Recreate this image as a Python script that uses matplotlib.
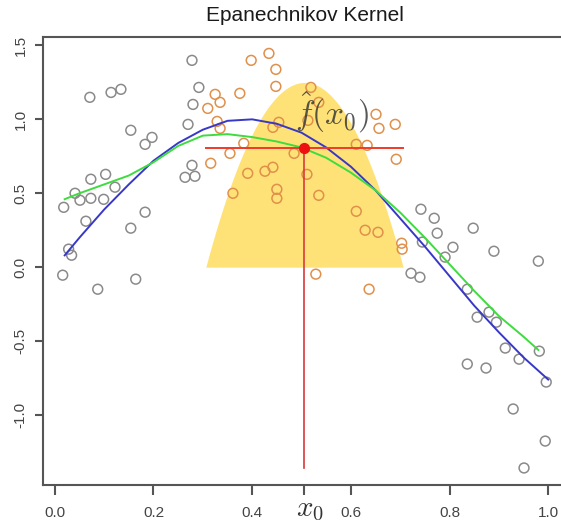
import numpy as np
import matplotlib
matplotlib.use("Agg")
import matplotlib.pyplot as plt

x_data = [0.071, 0.114, 0.134, 0.154, 0.183, 0.197, 0.041, 0.051, 0.073, 0.099,
          0.122, 0.018, 0.073, 0.103, 0.183, 0.154, 0.063, 0.028, 0.034, 0.016,
          0.087, 0.164, 0.278, 0.292, 0.280, 0.270, 0.278, 0.264, 0.284,
          0.398, 0.434, 0.448, 0.448, 0.375, 0.325, 0.335, 0.310, 0.329, 0.335,
          0.442, 0.454, 0.383, 0.355, 0.316, 0.391, 0.426, 0.442, 0.485, 0.361,
          0.450, 0.450, 0.519, 0.535, 0.513, 0.651, 0.657, 0.690, 0.611, 0.633,
          0.692, 0.511, 0.535, 0.611, 0.629, 0.655, 0.703, 0.704, 0.529, 0.637,
          0.742, 0.769, 0.775, 0.848, 0.807, 0.791, 0.890, 0.980, 0.722, 0.740,
          0.836, 0.856, 0.880, 0.895, 0.913, 0.941, 0.982, 0.996, 0.836, 0.874,
          0.929, 0.994, 0.951, 0.745]
y_data = [1.149, 1.182, 1.203, 0.926, 0.831, 0.878, 0.500, 0.453, 0.466, 0.459,
          0.541, 0.405, 0.595, 0.628, 0.372, 0.264, 0.311, 0.122, 0.081, -0.054,
          -0.149, -0.081, 1.399, 1.216, 1.101, 0.966, 0.689, 0.608, 0.615,
          1.399, 1.446, 1.338, 1.223, 1.176, 1.169, 1.115, 1.074, 0.986, 0.939,
          0.946, 0.980, 0.838, 0.770, 0.703, 0.635, 0.649, 0.676, 0.770, 0.500,
          0.527, 0.466, 1.216, 1.115, 0.993, 1.034, 0.939, 0.966, 0.831, 0.824,
          0.730, 0.628, 0.486, 0.378, 0.250, 0.236, 0.162, 0.122, -0.047, -0.149,
          0.392, 0.331, 0.230, 0.264, 0.135, 0.068, 0.108, 0.041, -0.041, -0.068,
          -0.149, -0.338, -0.304, -0.372, -0.547, -0.622, -0.568, -0.777, -0.655, -0.682,
          -0.959, -1.176, -1.358, 0.170]

# true function (blue) and kernel fit (green)
true_x = [0.02, 0.05, 0.10, 0.15, 0.20, 0.25, 0.30, 0.35, 0.40, 0.45, 0.50,
          0.55, 0.60, 0.65, 0.70, 0.75, 0.80, 0.85, 0.90, 0.95, 1.00]
true_y = [0.08, 0.20, 0.39, 0.56, 0.72, 0.84, 0.93, 0.99, 1.00, 0.97, 0.91,
          0.81, 0.68, 0.52, 0.33, 0.14, -0.06, -0.26, -0.44, -0.61, -0.76]
fit_x = [0.02, 0.05, 0.10, 0.15, 0.20, 0.25, 0.30, 0.35, 0.40, 0.45, 0.50,
         0.55, 0.60, 0.65, 0.70, 0.75, 0.80, 0.85, 0.90, 0.95, 0.98]
fit_y = [0.46, 0.50, 0.56, 0.62, 0.71, 0.82, 0.89, 0.90, 0.88, 0.85, 0.81,
         0.74, 0.64, 0.52, 0.37, 0.20, 0.02, -0.16, -0.33, -0.47, -0.56]

x0 = 0.506
lam = 0.2
fhat_x0 = 0.804
kernel_peak = 1.25

x_ticks = [0.0, 0.2, 0.4, 0.6, 0.8, 1.0]
x_ticklabels = ["0.0", "0.2", "0.4", "0.6", "0.8", "1.0"]
y_ticks = [-1.0, -0.5, 0.0, 0.5, 1.0, 1.5]
y_ticklabels = ["-1.0", "-0.5", "0.0", "0.5", "1.0", "1.5"]

plt.rcParams["font.family"] = ["Liberation Sans", "DejaVu Sans"]
plt.rcParams["mathtext.fontset"] = "cm"

fig = plt.figure(figsize=(5.61, 5.23), dpi=100)
ax = fig.add_axes([0.0766, 0.0727, 0.934, 0.856])

# Epanechnikov kernel shape around x0
t = np.linspace(-1, 1, 101)
kx = x0 + lam * t
ky = kernel_peak * (1 - t ** 2)
ax.fill_between(kx, 0, ky, color="#FFE277", lw=0, zorder=1)

xd = np.array(x_data)
yd = np.array(y_data)
inside = np.abs(xd - x0) <= lam
ax.scatter(xd[~inside], yd[~inside], s=50, facecolors="none",
           edgecolors="#8a8a8a", linewidths=1.1, zorder=3)
ax.scatter(xd[inside], yd[inside], s=50, facecolors="none",
           edgecolors="#E0904A", linewidths=1.1, zorder=3)

ax.plot(true_x, true_y, color="#3838C8", lw=1.4, zorder=4)
ax.plot(fit_x, fit_y, color="#3EDC3E", lw=1.4, zorder=4)

ax.plot([x0 - lam, x0 + lam], [fhat_x0, fhat_x0], color="#F03A2A", lw=1.4, zorder=5)
ax.plot([x0, x0], [min(y_data), fhat_x0], color="#D83A3A", lw=1.2, zorder=5)
ax.scatter([x0], [fhat_x0], s=50, color="#EE1111", zorder=6)

ax.text(x0 - 0.02, 0.965, r"$\hat{f}(x_0)$", fontsize=24, color="#3a3a3a",
        alpha=0.85, ha="left", va="baseline", zorder=7)

ax.set_xlim(-0.024, 1.038)
ax.set_ylim(-1.473, 1.555)
ax.set_xticks(x_ticks + [x0])
ax.set_xticklabels(x_ticklabels + [""])
ax.set_yticks(y_ticks)
ax.set_yticklabels(y_ticklabels, rotation=90, va="center")
ax.tick_params(axis="x", length=7, width=1.5, color="#555555", pad=8,
               labelsize=11, labelcolor="#444444")
ax.tick_params(axis="y", length=6, width=1.5, color="#555555", pad=5,
               labelsize=11, labelcolor="#444444")
# x0 label under its tick
ax.text(x0 + 0.012, -0.069, r"$x_0$", fontsize=21, color="#333333",
        ha="center", va="baseline", transform=ax.get_xaxis_transform())
for sp in ax.spines.values():
    sp.set_color("#555555")
    sp.set_linewidth(1.5)

ax.set_title("Epanechnikov Kernel", fontsize=15, color="#1a1a1a", pad=12)

fig.savefig("out.png", dpi=100)
